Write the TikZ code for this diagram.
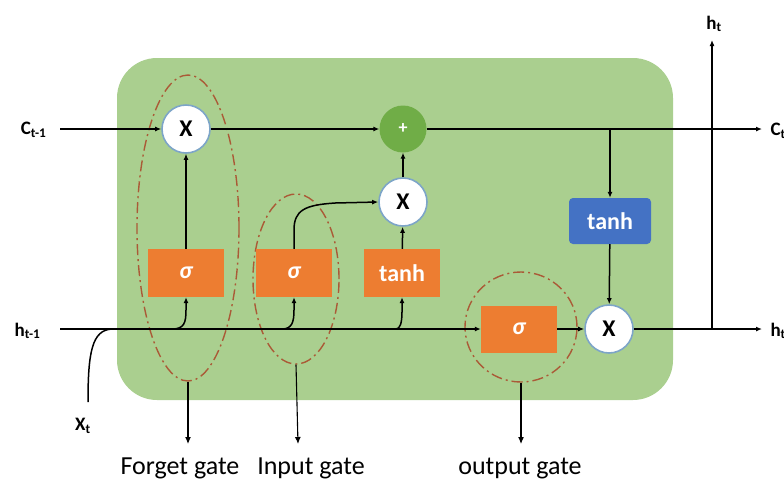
\documentclass[tikz,border=0pt]{standalone}
\usepackage{fontspec}
\setmainfont{Carlito}
\usetikzlibrary{arrows.meta,shapes.geometric}

\definecolor{cellgreen}{RGB}{170,207,143}
\definecolor{addgreen}{RGB}{112,173,71}
\definecolor{gateorange}{RGB}{237,125,49}
\definecolor{tanhblue}{RGB}{68,114,196}
\definecolor{ringblue}{RGB}{125,165,200}
\definecolor{ringbrown}{RGB}{170,90,55}

\tikzset{
  flow/.style={line width=1.5pt, -{Latex[length=6pt,width=5pt]}},
  plainline/.style={line width=1.5pt},
  thinflow/.style={line width=1.1pt, -{Latex[length=7pt,width=6pt]}},
  mult/.style={circle, draw=ringblue, line width=1.6pt, fill=white,
    minimum size=48pt, inner sep=0pt, font=\bfseries\fontsize{24}{24}\selectfont},
  addnode/.style={circle, fill=addgreen, minimum size=47pt, inner sep=0pt,
    text=white, font=\bfseries\fontsize{18}{18}\selectfont},
  gatebox/.style={rectangle, fill=gateorange, minimum width=76pt,
    minimum height=48pt, inner sep=0pt, text=white,
    font=\bfseries\fontsize{24}{24}\selectfont},
  bluebox/.style={rectangle, rounded corners=4pt, fill=tanhblue,
    minimum width=82pt, minimum height=46pt, inner sep=0pt, text=white,
    font=\bfseries\fontsize{24}{24}\selectfont},
  gatering/.style={ellipse, draw=ringbrown, line width=1.4pt, inner sep=0pt,
    dash pattern=on 11pt off 4pt on 2pt off 4pt},
  sig/.style={font=\bfseries\fontsize{19}{19}\selectfont},
  caption/.style={font=\fontsize{26}{26}\selectfont, anchor=base}
}

\begin{document}
\begin{tikzpicture}[x=1pt,y=-1pt]
\useasboundingbox (0,0) rectangle (784,483);

% cell body
\fill[cellgreen, rounded corners=40pt] (117,58) rectangle (673,400);

% gate groupings
\node[gatering, minimum width=102pt, minimum height=306pt] (fg) at (188,228) {};
\node[gatering, minimum width=86pt, minimum height=170pt] (ig) at (296,279) {};
\node[gatering, minimum width=112pt, minimum height=110pt] (og) at (521,327) {};

% operators
\node[mult] (fx) at (186,129) {X};
\node[addnode] (add) at (403,129) {+};
\node[mult] (ix) at (403,202) {X};
\node[mult] (ox) at (609,329) {X};

% layers
\node[gatebox] (fs) at (186,273) {\itshape σ};
\node[gatebox] (is) at (294,273) {\itshape σ};
\node[gatebox] (ct) at (402,273) {tanh};
\node[gatebox, minimum height=47pt] (os) at (519,329) {\itshape σ};
\node[bluebox] (ht) at (610,221) {tanh};

% free ends
\coordinate (cin) at (60,129);
\coordinate (cout) at (762,129);
\coordinate (cbr) at (610,129);
\coordinate (hin) at (60,329);
\coordinate (hout) at (762,329);
\coordinate (hsplit) at (712,329);
\coordinate (htop) at (712,40);
\coordinate (xbot) at (88,402);
\coordinate (fgend) at (188,444);
\coordinate (igend) at (298,444);
\coordinate (ogend) at (521,444);

% cell state path
\draw[flow] (cin) -- (fx);
\draw[flow] (fx) -- (add);
\draw[flow] (add) -- (cout);
\draw[flow] (cbr) -- (ht);
\draw[flow] (ht) -- (ox);

% gate outputs
\draw[flow] (fs) -- (fx);
\draw[flow] (ct) -- (ix);
\draw[flow] (ix) -- (add);
\draw[flow] (is.north) -- (294,230) .. controls (294,210) and (305,205) .. (335,203) -- (ix.west);

% hidden state path
\draw[flow] (hin) -- (os.west);
\draw[flow] (os.east) -- (ox.west);
\draw[flow] (ox.east) -- (hout);
\draw[flow] (hsplit) -- (htop);
\draw[plainline] (xbot) .. controls (88,352) and (92,330) .. (112,329);

% taps from the hidden state into the layers
\draw[flow] (172,329) .. controls (184,329) and (186,323) .. (186,310) -- (fs.south);
\draw[flow] (282,329) .. controls (292,329) and (294,322) .. (294,310) -- (is.south);
\draw[flow] (396,329) .. controls (400,329) and (402,323) .. (402,312) -- (ct.south);

% gate pointers
\draw[thinflow] (fg.south) -- (fgend);
\draw[thinflow] (ig.south) -- (igend);
\draw[thinflow] (og.south) -- (ogend);

% labels
\node[sig, anchor=east] (lcin) at (50,130) {C\textsubscript{t-1}};
\node[sig, anchor=east] (lhin) at (44,331) {h\textsubscript{t-1}};
\node[sig, anchor=west] (lcout) at (767,131) {C\textsubscript{t}};
\node[sig, anchor=west] (lhout) at (767,331) {h\textsubscript{t}};
\node[sig] (lhtop) at (714,24) {h\textsubscript{t}};
\node[sig] (lx) at (83,426) {X\textsubscript{t}};

\node[caption] (cf) at (180,474) {Forget gate};
\node[caption] (ci) at (311,474) {Input gate};
\node[caption] (co) at (520,474) {output gate};
\end{tikzpicture}
\end{document}
